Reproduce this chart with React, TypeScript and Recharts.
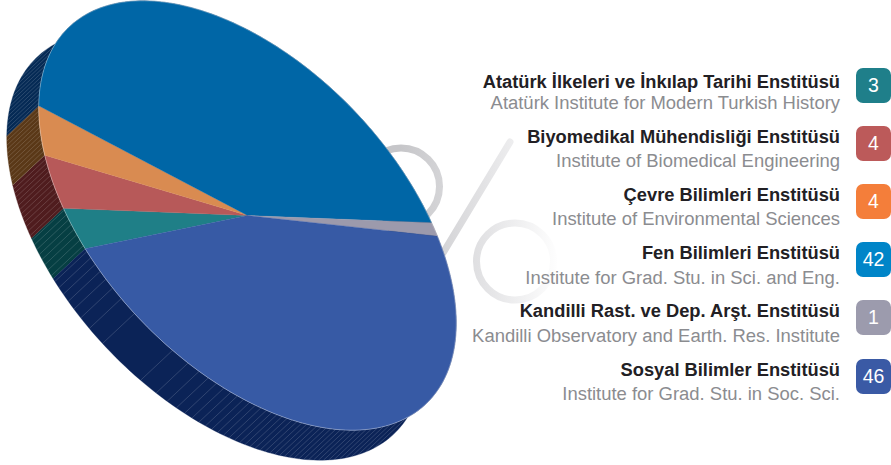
import { Pie, PieChart } from 'recharts';

const institutes = [
  'Atatürk İlkeleri ve İnkılap Tarihi Enstitüsü',
  'Biyomedikal Mühendisliği Enstitüsü',
  'Çevre Bilimleri Enstitüsü',
  'Fen Bilimleri Enstitüsü',
  'Kandilli Rast. ve Dep. Arşt. Enstitüsü',
  'Sosyal Bilimler Enstitüsü',
];
const englishNames = [
  'Atatürk Institute for Modern Turkish History',
  'Institute of Biomedical Engineering',
  'Institute of Environmental Sciences',
  'Institute for Grad. Stu. in Sci. and Eng.',
  'Kandilli Observatory and Earth. Res. Institute',
  'Institute for Grad. Stu. in Soc. Sci.',
];
const counts = [3, 4, 4, 42, 1, 46];
const faceColors = ['#1f7f87', '#b75959', '#d98b51', '#0066a6', '#9c9aac', '#375aa5'];
const sideColors = ['#063f43', '#4f1c1e', '#5a3817', '#052a55', '#3c3b48', '#0b2357'];
const badgeColors = ['#1f7f8a', '#bc5a5a', '#f47e3a', '#0085c8', '#9c9bad', '#3a5aa5'];

const data = institutes.map((name, i) => ({ name, value: counts[i], face: faceColors[i], side: sideColors[i] }));

// the disc is a flat pie seen at a slant: major axis 259.5, minor 149.5, turned 46.6deg
const CX = 247.5;
const CY = 215.5;
const RADIUS = 200;
const SEMI_MAJOR = 259.5;
const SEMI_MINOR = 149.5;
const TILT = 46.6;
const DEPTH_X = -32;
const DEPTH_Y = 30;

const rad = (deg: number) => (deg * Math.PI) / 180;

// pie angle (recharts, y up) to a point on the rim of the slanted disc
function rim(cx: number, cy: number, angle: number) {
  const t = rad(-angle - TILT);
  const u = SEMI_MAJOR * Math.cos(t);
  const v = SEMI_MINOR * Math.sin(t);
  return {
    x: cx + u * Math.cos(rad(TILT)) - v * Math.sin(rad(TILT)),
    y: cy + u * Math.sin(rad(TILT)) + v * Math.cos(rad(TILT)),
  };
}

function arcPoints(cx: number, cy: number, from: number, to: number) {
  const steps = Math.max(2, Math.ceil(Math.abs(to - from) / 1.5));
  const pts = [];
  for (let i = 0; i <= steps; i++) pts.push(rim(cx, cy, from + ((to - from) * i) / steps));
  return pts;
}

const toPath = (pts: { x: number; y: number }[]) =>
  pts.map((p, i) => `${i ? 'L' : 'M'}${p.x.toFixed(2)} ${p.y.toFixed(2)}`).join('');

// seam lines on the wall: they crowd together towards both ends of the visible side
const seamOffsets: number[] = [];
for (let n = 0; n < 60; n++) {
  const d = Math.sqrt(700 + 1450 * n);
  seamOffsets.push(20 + d, 20 - d);
}
const seamAngles = seamOffsets
  .filter((s) => Math.abs(s) < SEMI_MAJOR)
  .map((s) => -TILT - (Math.acos(s / SEMI_MAJOR) * 180) / Math.PI);

function FaceSector(props: any) {
  const { cx, cy, startAngle, endAngle, payload } = props;
  const arc = arcPoints(cx, cy, startAngle, endAngle);
  return (
    <g>
      <path d={`M${cx} ${cy}${toPath(arc).replace('M', 'L')}Z`} fill={payload.face} stroke={payload.face} strokeWidth={0.3} />
      <path d={toPath(arc)} fill="none" stroke="#ffffff" strokeOpacity={0.4} strokeWidth={0.8} />
    </g>
  );
}

function SideSector(props: any) {
  const { cx, cy, startAngle, endAngle, payload } = props;
  const top = arcPoints(cx, cy, startAngle, endAngle);
  const bottom = arcPoints(cx + DEPTH_X, cy + DEPTH_Y, endAngle, startAngle);
  const span = Math.abs(startAngle - endAngle);
  const seams = seamAngles.filter((a) => (((startAngle - a) % 360) + 360) % 360 <= span);
  return (
    <g>
      <path d={`${toPath(top)}${toPath(bottom).replace('M', 'L')}Z`} fill={payload.side} stroke={payload.side} strokeWidth={0.3} />
      {seams.map((a) => {
        const p = rim(cx, cy, a);
        return (
          <line
            key={a}
            x1={p.x}
            y1={p.y}
            x2={p.x + DEPTH_X}
            y2={p.y + DEPTH_Y}
            stroke="#ffffff"
            strokeOpacity={0.22}
            strokeWidth={0.7}
          />
        );
      })}
    </g>
  );
}

function PercentMark() {
  return (
    <svg width={891} height={465} style={{ position: 'absolute', left: 0, top: 0 }}>
      <defs>
        <linearGradient id="percentFade" gradientUnits="userSpaceOnUse" x1={400} y1={200} x2={560} y2={200}>
          <stop offset="0" stopColor="#c6c6c9" />
          <stop offset="0.55" stopColor="#e4e4e6" />
          <stop offset="1" stopColor="#ffffff" />
        </linearGradient>
      </defs>
      <g fill="none" stroke="url(#percentFade)" strokeWidth={7} strokeLinecap="round">
        <circle cx={401} cy={186.5} r={38.5} />
        <circle cx={515} cy={261.5} r={38.5} />
        <line x1={510} y1={142} x2={440} y2={258} />
      </g>
    </svg>
  );
}

function Legend() {
  return (
    <>
      {institutes.map((name, i) => (
        <div key={name}>
          <div
            style={{
              position: 'absolute',
              right: 51,
              top: i === 0 ? 70.5 : 67.5 + i * 58.2,
              textAlign: 'right',
              whiteSpace: 'nowrap',
              fontFamily: '"Liberation Sans", sans-serif',
              fontWeight: 700,
              fontSize: 18.3,
              lineHeight: '22px',
              color: '#222024',
            }}
          >
            {name}
          </div>
          <div
            style={{
              position: 'absolute',
              right: 51,
              top: 92 + i * 58.2,
              textAlign: 'right',
              whiteSpace: 'nowrap',
              fontFamily: '"Liberation Sans", sans-serif',
              fontSize: 18.45,
              lineHeight: '22px',
              color: '#8b8c90',
            }}
          >
            {englishNames[i]}
          </div>
          <div
            style={{
              position: 'absolute',
              left: 856,
              top: 67.5 + i * 58.2,
              width: 35,
              height: 35,
              borderRadius: 7,
              background: badgeColors[i],
              color: '#ffffff',
              textAlign: 'center',
              fontFamily: '"Liberation Sans", sans-serif',
              fontSize: 19.5,
              lineHeight: '35px',
            }}
          >
            {counts[i]}
          </div>
        </div>
      ))}
    </>
  );
}

export default function App() {
  return (
    <div style={{ position: 'fixed', left: 0, top: 0, width: 891, height: 465, overflow: 'hidden', background: '#ffffff' }}>
      <PercentMark />
      <div style={{ position: 'absolute', left: 0, top: 0 }}>
        <PieChart width={891} height={465} margin={{ top: 0, right: 0, bottom: 0, left: 0 }}>
          <Pie
            data={data}
            dataKey="value"
            cx={CX}
            cy={CY}
            outerRadius={RADIUS}
            startAngle={203.7}
            endAngle={-156.3}
            stroke="none"
            isAnimationActive={false}
            shape={SideSector}
          />
          <Pie
            data={data}
            dataKey="value"
            cx={CX}
            cy={CY}
            outerRadius={RADIUS}
            startAngle={203.7}
            endAngle={-156.3}
            stroke="none"
            isAnimationActive={false}
            shape={FaceSector}
          />
        </PieChart>
      </div>
      <Legend />
    </div>
  );
}
